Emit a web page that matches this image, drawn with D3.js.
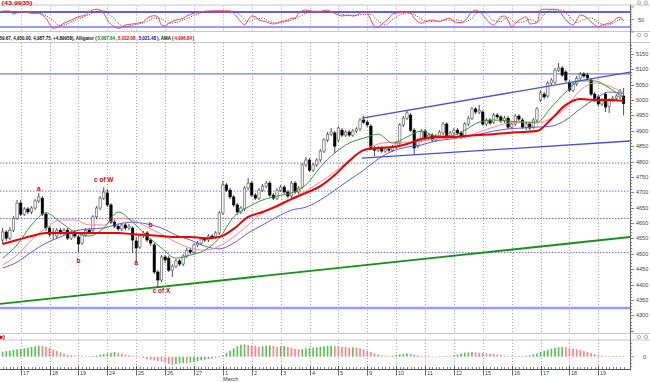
<!DOCTYPE html>
<html><head><meta charset="utf-8">
<script src="https://cdn.jsdelivr.net/npm/d3@7"></script>
<style>body{margin:0;background:#fff}svg{display:block}text{font-family:"Liberation Sans",Arial,sans-serif}</style>
</head><body><svg id="c" width="650" height="382"></svg>
<script>
// ---------------- DATA ----------------
const dayLabels = ["17","18","19","24","25","26","27","1","2","3","4","5","9","10","11","12","15","16","17","18","19"];
const priceTicks = [5150,5100,5050,5000,4950,4900,4850,4800,4750,4700,4650,4600,4550,4500,4450,4400,4350,4300];

const openP = [4545,4571,4551,4577,4616,4665,4629,4646,4636,4649,
4672,4681,4629,4584,4564,4558,4577,4568,4577,4551,
4571,4555,4535,4561,4577,4577,4620,4649,4681,4698,
4659,4603,4590,4581,4594,4584,4584,4542,4522,4558,
4568,4545,4529,4441,4415,4490,4486,4447,4460,4477,
4467,4493,4512,4506,4529,4535,4548,4545,4558,4555,
4568,4633,4724,4707,4685,4659,4636,4646,4714,4730,
4691,4681,4707,4720,4730,4691,4681,4707,4717,4701,
4688,4730,4701,4717,4789,4805,4772,4789,4805,4834,
4870,4889,4893,4870,4902,4886,4896,4886,4899,4906,
4935,4928,4915,4844,4837,4844,4834,4841,4837,4847,
4860,4919,4941,4951,4902,4850,4870,4899,4876,4886,
4870,4883,4893,4922,4883,4893,4902,4893,4883,4922,
4941,4971,4961,4961,4922,4935,4928,4951,4945,4932,
4941,4912,4922,4948,4935,4912,4922,4912,4935,5000,
5019,5013,5055,5058,5097,5104,5091,5058,5032,5052,
5071,5084,5081,5065,5019,5010,4987,5019,4980,5000,
5006,5010,5013];
const highP = [4584,4577,4587,4623,4675,4675,4652,4652,4655,4678,
4698,4688,4636,4590,4584,4584,4584,4584,4584,4577,
4577,4561,4568,4584,4584,4626,4655,4688,4717,4711,
4665,4610,4597,4600,4600,4597,4590,4555,4564,4574,
4574,4551,4535,4447,4496,4496,4493,4467,4483,4483,
4499,4519,4519,4535,4542,4555,4555,4564,4564,4574,
4639,4737,4730,4714,4691,4665,4655,4720,4746,4737,
4698,4714,4727,4737,4737,4698,4714,4724,4724,4707,
4737,4737,4720,4795,4815,4811,4795,4811,4841,4876,
4896,4909,4899,4915,4909,4902,4902,4906,4912,4941,
4948,4935,4922,4850,4850,4850,4847,4847,4854,4867,
4925,4948,4967,4958,4909,4876,4906,4906,4893,4893,
4889,4902,4928,4928,4899,4909,4909,4899,4928,4948,
4977,4977,4984,4967,4941,4941,4958,4958,4951,4948,
4948,4928,4954,4954,4941,4928,4928,4941,4977,5032,
5026,5062,5071,5104,5120,5110,5097,5065,5058,5078,
5091,5091,5088,5071,5026,5016,5006,5026,5006,5013,
5019,5036,5039];
const lowP = [4532,4542,4545,4571,4610,4623,4623,4629,4629,4642,
4665,4623,4574,4555,4545,4551,4561,4561,4545,4545,
4551,4506,4529,4555,4564,4571,4613,4642,4675,4652,
4597,4584,4574,4574,4577,4577,4503,4473,4516,4551,
4538,4525,4434,4392,4408,4470,4441,4425,4454,4460,
4460,4486,4499,4499,4522,4529,4538,4538,4548,4548,
4561,4626,4701,4678,4652,4626,4629,4639,4707,4685,
4675,4675,4701,4714,4685,4675,4675,4701,4694,4681,
4681,4694,4694,4711,4782,4766,4766,4782,4798,4828,
4863,4883,4828,4863,4880,4880,4880,4880,4893,4899,
4922,4912,4837,4818,4831,4828,4828,4831,4831,4841,
4854,4912,4935,4896,4821,4844,4863,4870,4870,4863,
4863,4876,4886,4876,4876,4886,4886,4873,4876,4915,
4935,4954,4954,4915,4915,4919,4922,4938,4925,4925,
4906,4906,4915,4932,4906,4902,4902,4906,4928,4993,
5003,5006,5049,5052,5091,5075,5058,5026,5026,5045,
5065,5071,5065,5013,4993,4980,4980,4961,4958,4993,
5000,5003,4950];
const closeP = [4571,4551,4577,4616,4665,4629,4646,4636,4649,4672,
4685,4629,4584,4564,4571,4577,4568,4577,4551,4571,
4558,4532,4561,4577,4571,4620,4649,4681,4701,4659,
4603,4590,4581,4594,4584,4590,4545,4519,4558,4568,
4545,4535,4441,4415,4490,4480,4447,4460,4477,4467,
4493,4512,4506,4529,4535,4548,4545,4558,4555,4568,
4633,4724,4707,4685,4659,4636,4649,4714,4730,4691,
4681,4707,4720,4730,4691,4681,4707,4717,4701,4688,
4730,4701,4714,4789,4805,4772,4789,4805,4834,4870,
4889,4896,4850,4909,4886,4896,4886,4899,4906,4935,
4928,4919,4844,4837,4844,4834,4841,4837,4847,4860,
4919,4941,4958,4902,4844,4870,4899,4876,4886,4870,
4883,4896,4922,4883,4893,4902,4893,4880,4922,4941,
4971,4961,4967,4922,4935,4925,4951,4945,4932,4941,
4912,4922,4948,4938,4912,4922,4909,4935,4971,5023,
5010,5055,5065,5097,5104,5081,5065,5032,5052,5071,
5084,5078,5071,5019,5000,4987,5000,4977,5000,5006,
5013,5029,4988];

// indicator samples (every 4th bar)
const lineIdx = [0,4,8,12,16,20,24,28,32,36,40,44,48,52,56,60,64,68,72,76,80,84,88,92,96,100,104,108,112,116,120,124,128,132,136,140,144,148,152,156,160,164,168,172];
const lipsG  = [4486,4529,4594,4633,4603,4571,4558,4584,4636,4603,4558,4519,4486,4496,4512,4551,4620,4652,4675,4688,4698,4724,4782,4828,4860,4876,4889,4860,4880,4899,4883,4883,4902,4928,4935,4932,4928,4928,4977,5026,5062,5062,5039,5008];
const teethR = [4464,4496,4545,4584,4610,4610,4594,4594,4616,4610,4587,4564,4538,4519,4512,4525,4555,4594,4633,4659,4681,4704,4734,4766,4805,4837,4857,4863,4863,4867,4873,4876,4880,4896,4912,4925,4928,4925,4941,4974,5032,5055,5045,5022];
const jawB   = [4454,4473,4506,4535,4555,4574,4581,4584,4597,4603,4597,4584,4561,4545,4525,4516,4535,4568,4594,4620,4642,4652,4675,4707,4740,4772,4808,4834,4847,4854,4867,4873,4880,4889,4899,4906,4909,4912,4915,4935,4971,5003,5026,5021];
const ama    = [4532,4545,4558,4568,4568,4568,4568,4568,4568,4564,4561,4558,4555,4555,4551,4555,4581,4620,4636,4655,4678,4698,4720,4756,4802,4837,4844,4847,4857,4873,4880,4880,4883,4886,4889,4893,4896,4899,4938,4984,5003,5000,5000,4997];

// drawn objects (bar index, price)
const trendGreen = [[-1,4337],[174,4555]];
const channelUp  = [[99.5,4941],[174,5091]];
const channelLo  = [[99.5,4811],[174,4867]];
const hLineTop = 5085, hLineBottom = 4324;
const dottedLevels = [4795,4704,4615,4504];
const waveLabels = [["a",10,4705],["c of W",28,4735],["b",21,4470],["a",37,4463],["b",41,4586],["c of X",44,4372]];

// stochastic %K and %D ([bar, value])
const oscK = [[0,84],[2,84],[3,72],[5,81],[6,81],[8,75],[10,75],[11,68],[12,55],[14,15],[15,19],[17,35],[19,48],[20,55],[21,61],[23,68],[24,81],[26,91],[27,88],[28,75],[29,48],[31,21],[32,15],[33,19],[34,28],[36,32],[38,37],[39,41],[40,55],[42,65],[43,61],[44,28],[45,24],[46,35],[48,48],[50,55],[51,64],[53,75],[55,81],[57,84],[60,85],[63,84],[64,75],[66,41],[67,28],[68,48],[69,64],[70,61],[71,48],[73,41],[74,35],[75,32],[77,41],[79,48],[80,55],[81,55],[82,75],[84,88],[85,85],[87,81],[89,85],[90,88],[91,81],[93,68],[94,64],[96,68],[97,64],[98,67],[100,81],[101,77],[102,48],[103,21],[104,19],[105,32],[107,55],[108,72],[110,77],[111,79],[113,75],[114,55],[116,35],[117,41],[119,48],[121,41],[122,48],[124,55],[125,41],[127,37],[128,45],[130,81],[131,88],[132,81],[133,68],[135,35],[136,28],[137,41],[138,61],[139,64],[140,48],[141,19],[142,35],[144,55],[145,61],[146,32],[148,37],[149,88],[150,91],[153,91],[154,88],[155,68],[157,35],[158,28],[159,48],[160,68],[162,55],[163,41],[165,21],[166,28],[168,35],[169,41],[170,55],[171,59],[172,44]];
const oscD = [[0,82],[3,80],[6,78],[9,77],[12,66],[14,45],[16,25],[18,33],[20,47],[22,58],[24,70],[26,82],[28,85],[30,66],[32,35],[34,20],[36,27],[38,33],[40,43],[42,55],[44,52],[46,35],[48,38],[50,48],[52,60],[54,72],[56,80],[60,84],[64,82],[66,65],[68,42],[70,52],[72,55],[74,42],[76,36],[78,40],[80,48],[82,60],[84,75],[86,84],[89,83],[92,80],[94,70],[97,65],[100,70],[102,70],[104,45],[106,28],[108,50],[110,68],[112,77],[114,70],[116,52],[118,42],[121,44],[124,48],[126,48],[128,41],[130,55],[132,82],[134,72],[136,45],[138,42],[140,58],[142,38],[144,40],[146,50],[148,40],[150,70],[152,88],[155,88],[157,62],[159,38],[161,50],[163,56],[165,38],[167,27],[169,35],[171,50],[172,52]];

// awesome oscillator, one per bar
const ao = [30,33,36,40,44,46,50,54,58,62,66,64,60,52,42,34,26,18,12,8,
6,4,2,1,2,4,8,12,16,20,24,28,24,18,12,8,5,3,-3,-8,
-14,-18,-22,-26,-30,-36,-44,-50,-44,-40,-38,-40,-36,-32,-28,-22,-18,-14,-10,-6,
2,10,22,36,50,62,72,74,70,66,64,60,62,66,68,64,60,62,64,60,
54,48,44,46,50,52,54,56,60,62,64,66,64,62,60,58,54,56,54,50,
44,36,28,20,14,8,6,4,6,10,14,18,20,16,12,8,4,3,2,-1,
-2,1,2,3,4,8,14,20,24,26,28,26,24,22,20,18,16,14,10,6,
4,3,2,3,4,6,8,14,20,28,36,42,48,52,56,58,56,52,48,44,
40,34,28,22,16,10,6,4,3,2,3,2,4];

// header texts
const mainHeader = [["59.67, 4,950.00, 4,987.75, +4.89958), Alligator (","#111"],["5,007.64","#008800"],[",","#111"],["5,022.08","#ee0000"],[",","#111"],["5,021.48","#0000ee"],["), AMA (","#111"],["4,996.84","#ee0000"],[")","#111"]];
const oscHeader = "(43.9935)";

// ---------------- DRAW ----------------
const svg = d3.select("#c");
const AX = 630;
const x = d3.scaleLinear().domain([0,172]).range([2.65,623.6]);
const yMain = d3.scaleLinear().domain([5150,4300]).range([53.85,315.4]);
const yOsc = d3.scaleLinear().domain([0,100]).range([32,7]);
const yAO = d3.scaleLinear().domain([0,60]).range([356.7,346.7]);
const P1={t:5.5,b:31.5}, P2={t:43,b:333}, P3={t:340,b:368.5};

const defs = svg.append("defs");
[["c1",P1],["c2",P2],["c3",P3]].forEach(([id,p])=>{
  defs.append("clipPath").attr("id",id).append("rect").attr("x",0).attr("y",p.t).attr("width",AX).attr("height",p.b-p.t);
});

// separators
[5,31.5,42.5,333.5,340].forEach(yy=>svg.append("line").attr("x1",0).attr("x2",650).attr("y1",yy).attr("y2",yy).attr("stroke","#c8c8c8").attr("stroke-width",1));

const dayIdx = dayLabels.map((d,k)=>5+8*k);

function vgrid(p, clip){
  svg.append("g").attr("clip-path",`url(#${clip})`).selectAll("line").data(dayIdx).join("line")
    .attr("x1",i=>Math.round(x(i))+0.5).attr("x2",i=>Math.round(x(i))+0.5).attr("y1",p.t).attr("y2",p.b)
    .attr("stroke","#aaa").attr("stroke-width",1).attr("stroke-dasharray","1,2");
}
vgrid(P1,"c1"); vgrid(P2,"c2"); vgrid(P3,"c3");

// ---- top oscillator panel
const g1 = svg.append("g").attr("clip-path","url(#c1)");
g1.append("line").attr("x1",0).attr("x2",AX).attr("y1",yOsc(80)).attr("y2",yOsc(80)).attr("stroke","#2828f0").attr("stroke-width",1.3);
g1.append("line").attr("x1",0).attr("x2",AX).attr("y1",yOsc(20)).attr("y2",yOsc(20)).attr("stroke","#7878ff").attr("stroke-width",1.6);
const oscLine = d3.line().x(d=>x(d[0])).y(d=>yOsc(d[1])).curve(d3.curveMonotoneX);
g1.append("path").attr("d",oscLine(oscD)).attr("fill","none").attr("stroke","#444").attr("stroke-width",1).attr("stroke-dasharray","1,1.5");
g1.append("path").attr("d",oscLine(oscK)).attr("fill","none").attr("stroke","#ff4444").attr("stroke-width",1);
svg.append("text").attr("x",1.5).attr("y",4.6).attr("font-size",5.5).attr("font-weight","bold").attr("fill","#ee0000").attr("textLength",31).attr("lengthAdjust","spacingAndGlyphs").text(oscHeader);

// ---- main panel
const g2 = svg.append("g").attr("clip-path","url(#c2)");
g2.selectAll("line.lvl").data(dottedLevels).join("line").attr("class","lvl")
  .attr("x1",0).attr("x2",AX).attr("y1",d=>yMain(d)).attr("y2",d=>yMain(d))
  .attr("stroke","#6a6aff").attr("stroke-width",1).attr("stroke-dasharray","1.5,1.5");
g2.append("line").attr("x1",0).attr("x2",AX).attr("y1",yMain(hLineTop)).attr("y2",yMain(hLineTop)).attr("stroke","#7a7ae8").attr("stroke-width",1.4);
g2.append("line").attr("x1",0).attr("x2",AX).attr("y1",yMain(hLineBottom)).attr("y2",yMain(hLineBottom)).attr("stroke","#9a9aff").attr("stroke-width",2.4);

const trend = d3.line().x(d=>x(d[0])).y(d=>yMain(d[1]));
g2.append("path").attr("d",trend(trendGreen)).attr("stroke","#189018").attr("stroke-width",1.8).attr("fill","none");

const bars = d3.range(openP.length);
g2.selectAll("line.wick").data(bars).join("line").attr("class","wick")
  .attr("x1",i=>x(i)).attr("x2",i=>x(i)).attr("y1",i=>yMain(highP[i])).attr("y2",i=>yMain(lowP[i]))
  .attr("stroke","#222").attr("stroke-width",0.8);
g2.selectAll("rect.body").data(bars).join("rect").attr("class","body")
  .attr("x",i=>x(i)-1.2).attr("width",2.4)
  .attr("y",i=>yMain(Math.max(openP[i],closeP[i])))
  .attr("height",i=>Math.max(0.8,Math.abs(yMain(openP[i])-yMain(closeP[i]))))
  .attr("fill",i=>closeP[i]>=openP[i]?"#f4f4f4":"#000")
  .attr("stroke",i=>closeP[i]>=openP[i]?"#555":"#000").attr("stroke-width",0.6);

const sm = d3.line().x(d=>x(d[0])).y(d=>yMain(d[1])).curve(d3.curveMonotoneX);
g2.append("path").attr("d",sm(d3.zip(lineIdx,jawB))).attr("fill","none").attr("stroke","#5a5aff").attr("stroke-width",1);
g2.append("path").attr("d",sm(d3.zip(lineIdx,teethR))).attr("fill","none").attr("stroke","#ff8888").attr("stroke-width",1);
g2.append("path").attr("d",sm(d3.zip(lineIdx,lipsG))).attr("fill","none").attr("stroke","#3c963c").attr("stroke-width",1);
g2.append("path").attr("d",sm(d3.zip(lineIdx,ama))).attr("fill","none").attr("stroke","#ee0000").attr("stroke-width",2);

g2.append("path").attr("d",trend(channelUp)).attr("stroke","#4b4be0").attr("stroke-width",1.3).attr("fill","none");
g2.append("path").attr("d",trend(channelLo)).attr("stroke","#4b4be0").attr("stroke-width",1.3).attr("fill","none");

g2.selectAll("text.wl").data(waveLabels).join("text").attr("class","wl")
  .attr("x",d=>x(d[1])).attr("y",d=>yMain(d[2])).attr("text-anchor","middle")
  .attr("font-size",6.5).attr("font-weight","bold").attr("fill","#e00000").text(d=>d[0]);

// main header: small font, stretched vertically, pieces laid out by measured width
const hdrG = svg.append("g").attr("transform","translate(-0.5,39.6) scale(1,1.35)");
let cx = 0;
mainHeader.forEach(([t,c])=>{
  const el = hdrG.append("text").attr("x",cx).attr("y",0).attr("font-size",4.5).attr("font-weight","bold").attr("fill",c).text(t);
  cx += el.node().getComputedTextLength() + 0.9;
});

// ---- AO panel
const g3 = svg.append("g").attr("clip-path","url(#c3)");
g3.selectAll("rect").data(bars).join("rect")
  .attr("x",i=>x(i)-0.8).attr("width",1.6)
  .attr("y",i=>Math.min(yAO(ao[i]),yAO(0)))
  .attr("height",i=>Math.max(0.6,Math.abs(yAO(ao[i])-yAO(0))))
  .attr("fill",i=>(i===0||ao[i]>=ao[i-1])?"#55bf55":"#ff8080");
svg.append("rect").attr("x",-0.5).attr("y",335.8).attr("width",3).attr("height",3).attr("fill","#ee0000");
svg.append("text").attr("x",3).attr("y",339.4).attr("font-size",5.5).attr("font-weight","bold").attr("fill","#111").text(")");

// ---- right axis
svg.append("line").attr("x1",AX+0.5).attr("x2",AX+0.5).attr("y1",5).attr("y2",369).attr("stroke","#666");
const minorMain = d3.range(4250,5190,10).filter(v=>yMain(v)>P2.t && yMain(v)<P2.b);
svg.selectAll("line.mt").data(minorMain).join("line").attr("class","mt")
  .attr("x1",AX+0.5).attr("x2",d=>AX+(d%50===0?4:2.2)).attr("y1",d=>Math.round(yMain(d))+0.5).attr("y2",d=>Math.round(yMain(d))+0.5).attr("stroke","#666").attr("stroke-width",0.8);
svg.selectAll("text.pt").data(priceTicks).join("text").attr("class","pt")
  .attr("x",636).attr("y",d=>yMain(d)+2).attr("font-size",5.5).attr("fill","#444").text(d=>d);
svg.selectAll("line.ot").data(d3.range(0,101,10)).join("line").attr("class","ot")
  .attr("x1",AX+0.5).attr("x2",d=>AX+(d%50===0?4:2.2)).attr("y1",d=>yOsc(d)).attr("y2",d=>yOsc(d)).attr("stroke","#666").attr("stroke-width",0.7);
svg.append("text").attr("x",638).attr("y",21.5).attr("font-size",5.5).attr("fill","#444").text("50");
svg.selectAll("line.at").data([-60,-40,-20,0,20,40,60,80]).join("line").attr("class","at")
  .attr("x1",AX+0.5).attr("x2",d=>AX+(d===0?4:2.2)).attr("y1",d=>yAO(d)).attr("y2",d=>yAO(d)).attr("stroke","#666").attr("stroke-width",0.7);
svg.append("text").attr("x",643).attr("y",358.8).attr("font-size",5.5).attr("fill","#444").text("0");

// panel buttons
[2.6,35,337].forEach(yy=>[639,646].forEach(xx=>svg.append("circle").attr("cx",xx).attr("cy",yy).attr("r",1.7).attr("fill","#f2f2f2").attr("stroke","#999").attr("stroke-width",0.7)));

// ---- x axis
svg.append("line").attr("x1",0).attr("x2",AX+1).attr("y1",369.5).attr("y2",369.5).attr("stroke","#555");
svg.selectAll("line.xm").data(bars).join("line").attr("class","xm")
  .attr("x1",i=>Math.round(x(i))+0.5).attr("x2",i=>Math.round(x(i))+0.5).attr("y1",367).attr("y2",369.5).attr("stroke","#555").attr("stroke-width",0.7);
svg.selectAll("line.xM").data(dayIdx).join("line").attr("class","xM")
  .attr("x1",i=>Math.round(x(i))+0.5).attr("x2",i=>Math.round(x(i))+0.5).attr("y1",366).attr("y2",375.5).attr("stroke","#444").attr("stroke-width",0.8);
svg.selectAll("text.xl").data(dayLabels).join("text").attr("class","xl")
  .attr("x",(d,k)=>Math.round(x(dayIdx[k]))+2).attr("y",375).attr("font-size",5.5).attr("fill","#444").text(d=>d);
svg.append("text").attr("x",Math.round(x(dayIdx[7]))).attr("y",381).attr("font-size",5.5).attr("fill","#444").text("March");
</script></body></html>
